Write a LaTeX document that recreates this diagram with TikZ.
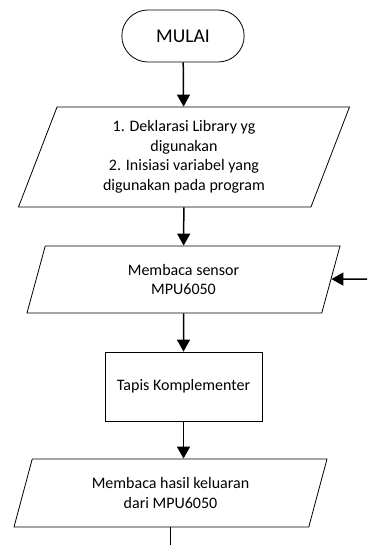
\documentclass[tikz,border=0pt]{standalone}
\usepackage{fontspec}
\setmainfont{Carlito}
\usetikzlibrary{arrows.meta,shapes.geometric,shapes.misc,positioning}

\begin{document}
\begin{tikzpicture}[x=1pt, y=-1pt,
		terminal/.style={rounded rectangle, draw, line width=0.8pt, minimum width=129pt, minimum height=52pt, font=\fontsize{19.5}{23}\selectfont},
		io/.style={trapezium, trapezium left angle=64, trapezium right angle=116, trapezium stretches body, draw, line width=0.8pt, align=center, minimum width=313pt, minimum height=67pt, font=\fontsize{16}{19.5}\selectfont},
		proses/.style={rectangle, draw, line width=0.8pt, align=center, minimum width=157pt, minimum height=69pt, font=\fontsize{16}{19.5}\selectfont},
		alur/.style={-{Triangle[length=12pt, width=13pt]}, line width=1.5pt}
		]
	
		\useasboundingbox (0,0) rectangle (367,545);
	
		% --- Simbol flowchart ---
		\node[terminal] (mulai) at (183, 36) {MULAI};
		\node[io, minimum width=331pt, minimum height=100pt] (deklarasi) at (184, 157) {1. Deklarasi Library yg\\digunakan\\2. Inisiasi variabel yang\\digunakan pada program};
		\node[io] (baca) at (183.5, 279.5) {Membaca sensor\\MPU6050};
		\node[proses] (tapis) at (183.5, 386.5) {Tapis Komplementer};
		\node[io, minimum height=68pt] (hasil) at (170.5, 493) {Membaca hasil keluaran\\dari MPU6050};
	
		% Ujung bebas
		\coordinate (kembali) at (367, 279);
		\coordinate (lanjut) at (170.5, 545);
	
		% Garis alur
		\draw[alur] (mulai) -- (deklarasi);
		\draw[alur] (deklarasi) -- (baca);
		\draw[alur] (baca) -- (tapis);
		\draw[alur] (tapis.south) -- (tapis.south |- hasil.north);
		\draw[alur] (kembali) -- (baca);
		\draw[line width=1.5pt] (hasil) -- (lanjut);
	
	\end{tikzpicture}
\end{document}
